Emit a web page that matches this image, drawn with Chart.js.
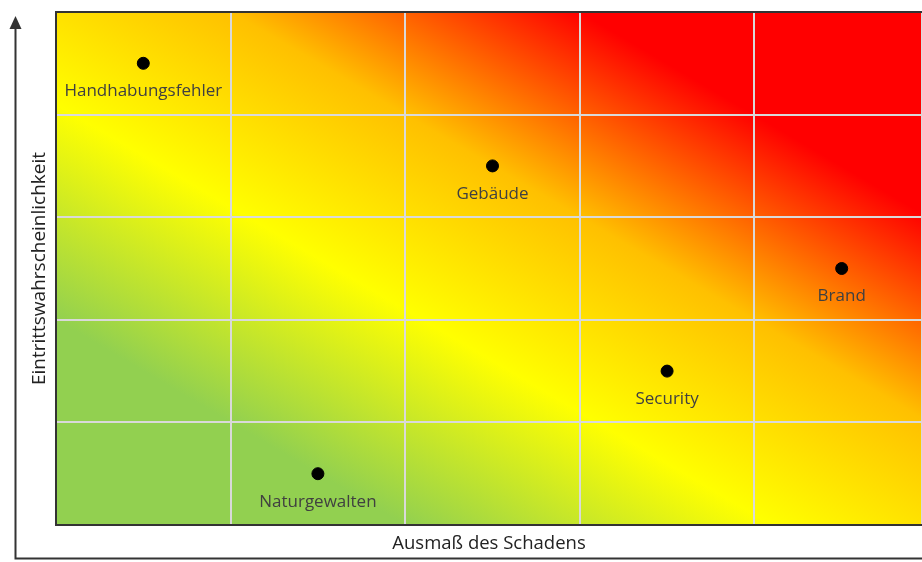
<!DOCTYPE html>
<html>
<head>
<meta charset="utf-8">
<script src="https://cdn.jsdelivr.net/npm/chart.js@4/dist/chart.umd.min.js"></script>
<style>
  html, body { margin: 0; padding: 0; background: #fff; overflow: hidden; }
  #riskChart { position: absolute; left: 0; top: 0; }
</style>
</head>
<body>
<canvas id="riskChart" width="922" height="562"></canvas>
<script>
// Risikomatrix: Ausmaß (x) gegen Eintrittswahrscheinlichkeit (y), Zellen 0..5
const risks = ['Handhabungsfehler', 'Gebäude', 'Brand', 'Security', 'Naturgewalten'];
const impact = [0.5, 2.5, 4.5, 3.5, 1.5];
const probability = [4.5, 3.5, 2.5, 1.5, 0.5];
const xTitle = 'Ausmaß des Schadens';
const yTitle = 'Eintrittswahrscheinlichkeit';

const AXIS = '#333333';
const GRID = '#d9d9d9';

// diagonal colour field green -> yellow -> orange -> red (over the full 5x5 matrix)
const heatBackground = {
  id: 'heatBackground',
  beforeDraw(chart) {
    const { ctx, chartArea: a, scales } = chart;
    const x0 = scales.x.getPixelForValue(0);
    const x5 = scales.x.getPixelForValue(5);
    const y0 = scales.y.getPixelForValue(0);
    const y5 = scales.y.getPixelForValue(5);
    ctx.save();
    ctx.beginPath();
    ctx.rect(a.left, a.top, a.right - a.left, a.bottom - a.top);
    ctx.clip();
    ctx.translate(x0, y0);
    ctx.scale(x5 - x0, y5 - y0);
    const g = ctx.createLinearGradient(0, 0, 1, 1);
    g.addColorStop(0, '#92d050');
    g.addColorStop(0.2, '#92d050');
    g.addColorStop(0.41, '#ffff00');
    g.addColorStop(0.6, '#ffc000');
    g.addColorStop(0.8, '#ff0000');
    g.addColorStop(1, '#ff0000');
    ctx.fillStyle = g;
    ctx.fillRect(0, 0, 1, 1);
    ctx.restore();
  }
};

// point names under the dots
const pointLabels = {
  id: 'pointLabels',
  afterDatasetsDraw(chart) {
    const { ctx } = chart;
    const meta = chart.getDatasetMeta(0);
    ctx.save();
    ctx.font = '17px "Open Sans"';
    ctx.fillStyle = '#404040';
    ctx.textAlign = 'center';
    ctx.textBaseline = 'middle';
    meta.data.forEach((pt, i) => {
      ctx.fillText(risks[i], pt.x, pt.y + 28);
    });
    ctx.restore();
  }
};

// outer arrows for both axes
const axisArrows = {
  id: 'axisArrows',
  afterDraw(chart) {
    const { ctx } = chart;
    ctx.save();
    ctx.strokeStyle = AXIS;
    ctx.fillStyle = AXIS;
    ctx.lineWidth = 2;
    ctx.beginPath();
    ctx.moveTo(15.5, 559.5);
    ctx.lineTo(15.5, 26);
    ctx.moveTo(14.5, 558.5);
    ctx.lineTo(922, 558.5);
    ctx.stroke();
    ctx.beginPath();
    ctx.moveTo(15.5, 16);
    ctx.lineTo(21.5, 29);
    ctx.lineTo(9.5, 29);
    ctx.closePath();
    ctx.fill();
    ctx.restore();
  }
};

new Chart(document.getElementById('riskChart'), {
  type: 'scatter',
  data: {
    datasets: [{
      data: risks.map((r, i) => ({ x: impact[i], y: probability[i] })),
      backgroundColor: '#000000',
      borderColor: '#000000',
      pointRadius: 6,
      pointHoverRadius: 6
    }]
  },
  options: {
    responsive: false,
    animation: false,
    layout: { autoPadding: false, padding: { left: 20, top: 12, right: 0, bottom: 0 } },
    plugins: {
      legend: { display: false },
      tooltip: { enabled: false }
    },
    scales: {
      x: {
        type: 'linear',
        min: 0,
        max: 4.96, // matrix runs just past the right edge of the picture
        ticks: { display: false, stepSize: 1 },
        grid: { color: GRID, lineWidth: 2, drawTicks: false },
        border: { color: AXIS, width: 2 },
        title: {
          display: true,
          text: xTitle,
          color: '#222222',
          font: { family: 'Open Sans', size: 18.5 },
          padding: { top: 7.9, bottom: 6.9 }
        }
      },
      y: {
        type: 'linear',
        min: 0,
        max: 5,
        ticks: { display: false, stepSize: 1 },
        grid: {
          color: ctx => (ctx.tick && ctx.tick.value === 5 ? AXIS : GRID),
          lineWidth: 2,
          drawTicks: false
        },
        border: { color: AXIS, width: 2 },
        title: {
          display: true,
          text: yTitle,
          color: '#222222',
          font: { family: 'Open Sans', size: 19 },
          padding: { top: 8.6, bottom: 4.6 }
        }
      }
    }
  },
  plugins: [heatBackground, pointLabels, axisArrows]
});
</script>
</body>
</html>
